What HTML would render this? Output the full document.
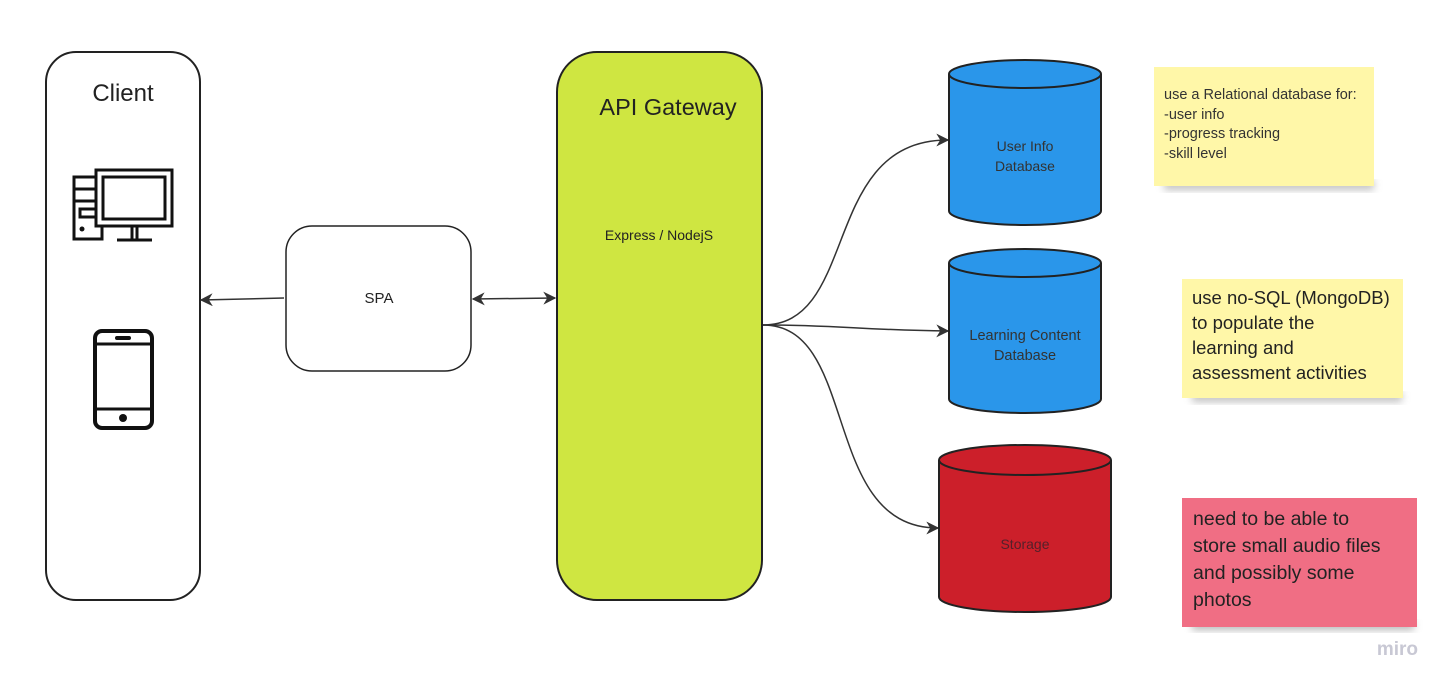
<!DOCTYPE html>
<html><head><meta charset="utf-8"><style>
html,body{margin:0;padding:0;background:#fff;width:1450px;height:689px;overflow:hidden}
svg text{font-family:"Liberation Sans",sans-serif}
</style></head><body>
<svg width="1450" height="689" viewBox="0 0 1450 689" xmlns="http://www.w3.org/2000/svg">
<defs>
<marker id="ah" viewBox="0 0 10 10" refX="9" refY="5" markerWidth="13" markerHeight="13" markerUnits="userSpaceOnUse" orient="auto-start-reverse">
<path d="M0,0 L10,5 L0,10 L3,5 z" fill="#333"/></marker>
<filter id="sh" x="-10%" y="-10%" width="120%" height="140%"><feGaussianBlur stdDeviation="4"/></filter>
</defs>
<rect x="46" y="52" width="154" height="548" rx="30" fill="#fff" stroke="#222" stroke-width="2"/>
<text x="123" y="101" font-size="24" text-anchor="middle" fill="#222">Client</text>
<g fill="none" stroke="#111" stroke-width="3">
<rect x="74" y="177" width="28" height="62"/>
<line x1="74" y1="189" x2="102" y2="189"/><line x1="74" y1="201" x2="102" y2="201"/>
<rect x="80" y="209" width="16" height="8"/>
<rect x="96" y="170" width="76" height="56" fill="#fff"/>
<rect x="103" y="177" width="62" height="42"/>
<line x1="132" y1="226" x2="132" y2="240"/><line x1="137" y1="226" x2="137" y2="240"/>
<line x1="117" y1="240" x2="152" y2="240"/>
</g>
<circle cx="82" cy="229" r="2.5" fill="#111"/>
<rect x="95" y="331" width="57" height="97" rx="7" fill="none" stroke="#111" stroke-width="4"/>
<line x1="95" y1="344" x2="152" y2="344" stroke="#111" stroke-width="3"/>
<line x1="95" y1="409" x2="152" y2="409" stroke="#111" stroke-width="3"/>
<rect x="115" y="336" width="16" height="4" rx="2" fill="#111"/>
<circle cx="123" cy="418" r="4" fill="#111"/>
<rect x="286" y="226" width="185" height="145" rx="26" fill="#fff" stroke="#222" stroke-width="1.5"/>
<text x="379" y="303" font-size="15" text-anchor="middle" fill="#222">SPA</text>
<rect x="557" y="52" width="205" height="548" rx="40" fill="#cfe641" stroke="#222" stroke-width="2"/>
<text x="668" y="115" font-size="23.5" text-anchor="middle" fill="#222">API Gateway</text>
<text x="659" y="240" font-size="14" text-anchor="middle" fill="#222">Express / NodejS</text>
<line x1="284" y1="298" x2="201" y2="300" stroke="#333" stroke-width="1.5" marker-end="url(#ah)"/>
<line x1="473" y1="299" x2="555" y2="298" stroke="#333" stroke-width="1.5" marker-end="url(#ah)" marker-start="url(#ah)"/>
<path d="M763,325 C860,325 820,140 948,140" fill="none" stroke="#333" stroke-width="1.5" marker-end="url(#ah)"/>
<path d="M763,325 C840,325 860,330 948,331" fill="none" stroke="#333" stroke-width="1.5" marker-end="url(#ah)"/>
<path d="M763,325 C860,325 820,528 938,528" fill="none" stroke="#333" stroke-width="1.5" marker-end="url(#ah)"/>
<path d="M949,74 L949,211 A76,14 0 0 0 1101,211 L1101,74" fill="#2a96ea" stroke="#222" stroke-width="2"/>
<ellipse cx="1025" cy="74" rx="76" ry="14" fill="#2a96ea" stroke="#222" stroke-width="2"/>
<text x="1025" y="151" font-size="14" text-anchor="middle" fill="#333">User Info</text>
<text x="1025" y="171" font-size="14" text-anchor="middle" fill="#333">Database</text>
<path d="M949,263 L949,399 A76,14 0 0 0 1101,399 L1101,263" fill="#2a96ea" stroke="#222" stroke-width="2"/>
<ellipse cx="1025" cy="263" rx="76" ry="14" fill="#2a96ea" stroke="#222" stroke-width="2"/>
<text x="1025" y="340" font-size="14.5" text-anchor="middle" fill="#333">Learning Content</text>
<text x="1025" y="360" font-size="14.5" text-anchor="middle" fill="#333">Database</text>
<path d="M939,460 L939,597 A86,15 0 0 0 1111,597 L1111,460" fill="#cc1f2a" stroke="#222" stroke-width="2"/>
<ellipse cx="1025" cy="460" rx="86" ry="15" fill="#cc1f2a" stroke="#222" stroke-width="2"/>
<text x="1025" y="549" font-size="14" text-anchor="middle" fill="#55202a">Storage</text>
<rect x="1164" y="180" width="210" height="10" fill="#999" opacity="0.6" filter="url(#sh)"/>
<rect x="1154" y="67" width="220" height="119" fill="#fff7a8"/>
<g font-size="14.5" fill="#333">
<text x="1164" y="99">use a Relational database for:</text>
<text x="1164" y="119">-user info</text>
<text x="1164" y="138">-progress tracking</text>
<text x="1164" y="158">-skill level</text>
</g>
<rect x="1192" y="392" width="210" height="10" fill="#999" opacity="0.6" filter="url(#sh)"/>
<rect x="1182" y="279" width="221" height="119" fill="#fff7a8"/>
<g font-size="18.5" fill="#222">
<text x="1192" y="304">use no-SQL (MongoDB)</text>
<text x="1192" y="329">to populate the</text>
<text x="1192" y="354">learning and</text>
<text x="1192" y="379">assessment activities</text>
</g>
<rect x="1192" y="620" width="222" height="10" fill="#888" opacity="0.6" filter="url(#sh)"/>
<rect x="1182" y="498" width="235" height="129" fill="#f06e84"/>
<g font-size="19.5" fill="#222">
<text x="1193" y="525">need to be able to</text>
<text x="1193" y="552">store small audio files</text>
<text x="1193" y="579">and possibly some</text>
<text x="1193" y="606">photos</text>
</g>
<text x="1418" y="655" font-size="19" text-anchor="end" fill="#c8c8d4" font-weight="bold">miro</text>
</svg>
</body></html>
